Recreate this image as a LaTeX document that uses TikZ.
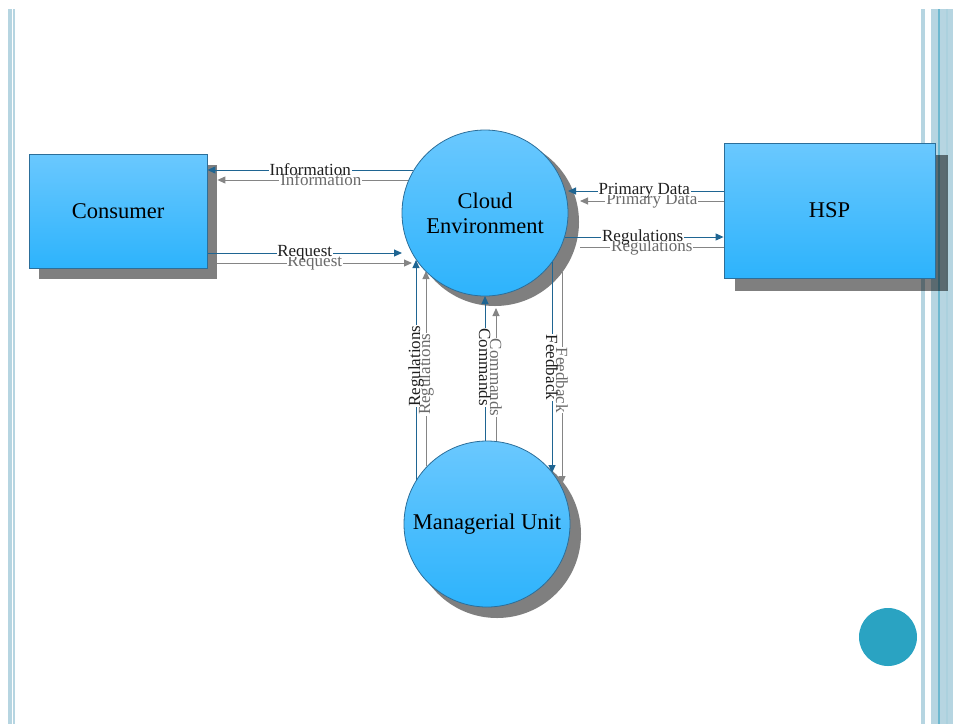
\documentclass[tikz,border=0pt]{standalone}
\usepackage{fontspec}
\setmainfont{Liberation Serif}
\usetikzlibrary{arrows.meta,calc}
\pgfdeclarelayer{bgstripes}
\pgfdeclarelayer{shad}
\pgfdeclarelayer{conn}
\pgfsetlayers{bgstripes,shad,conn,main}
\definecolor{fillTop}{HTML}{6AC8FE}
\definecolor{fillBot}{HTML}{2DB3FC}
\definecolor{edgeBlue}{HTML}{2C6E99}
\definecolor{arrowBlue}{HTML}{1F6592}
\definecolor{arrowGray}{HTML}{858585}
\definecolor{labelGray}{HTML}{6A6A6A}
\definecolor{stripe}{HTML}{B6D5E1}
\definecolor{stripeDark}{HTML}{6DB8CF}
\definecolor{dotTeal}{HTML}{2AA3C2}
\tikzset{
  entity/.style={draw=edgeBlue, line width=0.8pt, top color=fillTop, bottom color=fillBot,
    font=\fontsize{22.5}{26}\selectfont, align=center, inner sep=0pt},
  procbox/.style={entity, rectangle},
  proccirc/.style={entity, circle, minimum size=166pt},
  shadowc/.style={fill=black, opacity=0.5},
  blarrow/.style={draw=arrowBlue, line width=1pt, -{Triangle[length=8pt,width=7pt]}},
  grarrow/.style={draw=arrowGray, line width=1pt, -{Triangle[length=8pt,width=7pt]}},
  grline/.style={draw=arrowGray, line width=1pt},
  lblb/.style={font=\fontsize{17}{17}\selectfont, fill=white, inner xsep=0.8pt, inner ysep=-3.5pt, text=black!88},
  lblg/.style={font=\fontsize{17}{17}\selectfont, fill=white, inner xsep=0.8pt, inner ysep=-3.5pt, text=labelGray},
}
\begin{document}
\begin{tikzpicture}[x=1pt,y=-1pt]
\useasboundingbox (0,0) rectangle (953,724);
% border stripes
\begin{pgfonlayer}{bgstripes}
\fill[stripe] (8,9) rectangle (12,724);
\fill[stripe] (13.3,9) rectangle (14.5,724);
\fill[stripe] (921,9) rectangle (924.7,724);
\fill[stripe] (931,9) rectangle (938,724);
\fill[stripeDark] (938,9) rectangle (940,724);
\fill[stripe] (940,9) rectangle (946,724);
\fill[stripe!85!stripeDark] (946,9) rectangle (947.7,724);
\fill[stripe] (947.7,9) rectangle (953,724);
\end{pgfonlayer}

% nodes
\node[procbox, minimum width=178pt, minimum height=114pt] (consumer) at (118,211) {Consumer};
\node[procbox, minimum width=211pt, minimum height=135pt] (hsp) at (829.5,210.5) {HSP};
\node[proccirc] (cloud) at (485,213) {Cloud\\[-1pt]Environment};
\node[proccirc] (mgr) at (487,524) {Managerial Unit};
\node[circle, fill=dotTeal, minimum size=58pt, inner sep=0pt] (dot) at (888,637) {};

% shadows
\begin{pgfonlayer}{shad}
\fill[shadowc] ($(consumer.south west)+(10,11)$) rectangle ($(consumer.north east)+(10,11)$);
\fill[shadowc] ($(hsp.south west)+(11,13)$) rectangle ($(hsp.north east)+(13,12)$);
\fill[shadowc] ($(cloud.center)+(10,9)$) circle (84);
\fill[shadowc] ($(mgr.center)+(10,10)$) circle (84);
\end{pgfonlayer}

% connectors
\begin{pgfonlayer}{conn}
% gray duplicates
\draw[grarrow] ($(cloud.center)+(-76,-33)$) -- node[lblg,pos=0.46]{Information} ($(consumer.east)+(10,-31)$);
\draw[grarrow] ($(consumer.east)+(10,52)$) -- node[lblg,pos=0.5]{Request} ($(cloud.center)+(-73,50)$);
\draw[grarrow] ($(hsp.west)+(0,-9.5)$) -- node[lblg,pos=0.5]{Primary Data} ($(cloud.center)+(95,-12)$);
\draw[grline] ($(cloud.center)+(95,34)$) -- node[lblg,pos=0.5]{Regulations} ($(hsp.west)+(0,36.5)$);
\draw[grarrow] ($(mgr.center)+(-61,-58)$) -- node[lblg,pos=0.47,rotate=90]{Regulations} ($(cloud.center)+(-59,58)$);
\draw[grarrow] ($(mgr.center)+(9,-82)$) -- node[lblg,pos=0.48,rotate=-90]{Commands} ($(cloud.center)+(11,95)$);
\draw[grarrow] ($(cloud.center)+(77,59)$) -- node[lblg,pos=0.51,rotate=-90]{Feedback} ($(mgr.center)+(75,-40)$);
% blue arrows
\draw[blarrow] ($(cloud.center)+(-72,-43)$) -- node[lblb,pos=0.5]{Information} ($(consumer.east)+(0,-41)$);
\draw[blarrow] ($(consumer.east)+(0,42)$) -- node[lblb,pos=0.5]{Request} ($(cloud.center)+(-83,40)$);
\draw[blarrow] ($(hsp.west)+(0,-19.5)$) -- node[lblb,pos=0.51]{Primary Data} ($(cloud.center)+(83,-22)$);
\draw[blarrow] ($(cloud.center)+(80,24)$) -- node[lblb,pos=0.49]{Regulations} ($(hsp.west)+(0,26.5)$);
\draw[blarrow] ($(mgr.center)+(-71,-43)$) -- node[lblb,pos=0.52,rotate=90]{Regulations} ($(cloud.center)+(-69,47)$);
\draw[blarrow] ($(mgr.center)+(-2,-83)$) -- node[lblb,pos=0.51,rotate=-90]{Commands} ($(cloud.center)+(0,83)$);
\draw[blarrow] ($(cloud.center)+(67,49)$) -- node[lblb,pos=0.5,rotate=-90]{Feedback} ($(mgr.center)+(65,-51)$);
\end{pgfonlayer}
\end{tikzpicture}
\end{document}
